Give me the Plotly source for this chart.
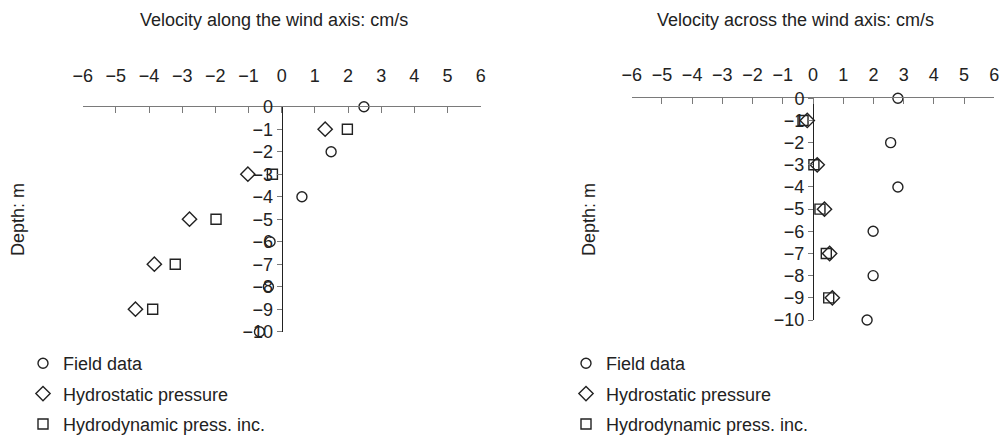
import plotly.graph_objects as go

# Depth levels (m) for each series
depth_field = [0, -2, -4, -6, -8, -10]
depth_model = [-1, -3, -5, -7, -9]

# Velocity along the wind axis (cm/s)
along_field = [2.48, 1.49, 0.61, -0.35, -0.40, -0.67]
along_hydrostatic = [1.31, -1.02, -2.78, -3.84, -4.41]
along_hydrodynamic = [1.98, -0.28, -1.98, -3.21, -3.89]

# Velocity across the wind axis (cm/s)
across_field = [2.81, 2.57, 2.81, 1.99, 1.99, 1.79]
across_hydrostatic = [-0.19, 0.14, 0.38, 0.55, 0.64]
across_hydrodynamic = [-0.33, 0.03, 0.23, 0.44, 0.52]

x_ticks = [-6, -5, -4, -3, -2, -1, 0, 1, 2, 3, 4, 5, 6]
y_ticks = [0, -1, -2, -3, -4, -5, -6, -7, -8, -9, -10]

series_names = ["Field data", "Hydrostatic pressure", "Hydrodynamic press. inc."]
symbols = ["circle-open", "diamond-open", "square-open"]
sizes = [10, 11, 10]

FONT = "Liberation Sans, Arial, Helvetica, sans-serif"
FS = 18
INK = "#222222"
GREY = "#7a7a7a"


def fmt(v):
    return str(v).replace("-", "\u2212")


fig = go.Figure()

panels = [
    ("x", "y", "legend", [along_field, along_hydrostatic, along_hydrodynamic]),
    ("x2", "y2", "legend2", [across_field, across_hydrostatic, across_hydrodynamic]),
]
for xa, ya, leg, vals in panels:
    for i, v in enumerate(vals):
        d = depth_field if i == 0 else depth_model
        fig.add_trace(go.Scatter(
            x=v, y=d, mode="markers", name=series_names[i],
            xaxis=xa, yaxis=ya, legend=leg, legendgroup=f"{leg}{i}",
            cliponaxis=False,
            marker=dict(symbol=symbols[i], size=sizes[i], color=INK,
                        line=dict(width=1.4, color=INK)),
        ))

W, H = 1007, 441


def px_x(p):
    return p / W


def px_y(p):
    return 1 - p / H


tick_font = dict(family=FONT, size=FS, color=INK)

common_x = dict(
    range=[-6, 6], side="top", showline=True, linecolor=GREY, linewidth=1,
    ticks="inside", ticklen=6, tickcolor=GREY, tickwidth=1,
    tickvals=x_ticks, ticktext=[fmt(t) for t in x_ticks],
    showgrid=False, zeroline=False, fixedrange=True, tickfont=tick_font,
)
common_y = dict(
    range=[-10, 0], anchor="free", showline=True, linecolor=INK, linewidth=1,
    ticks="outside", ticklen=5, tickcolor=GREY, tickwidth=1,
    tickvals=y_ticks, ticktext=[fmt(t) for t in y_ticks],
    showgrid=False, zeroline=False, fixedrange=True, tickfont=tick_font,
)


def label(text, x, y, angle=0):
    return dict(text=text, x=px_x(x), y=px_y(y), xref="paper", yref="paper",
                xanchor="center", yanchor="middle", textangle=angle,
                showarrow=False, font=dict(family=FONT, size=FS, color=INK))


legend_style = dict(xanchor="left", yanchor="top", tracegroupgap=4,
                    bgcolor="rgba(0,0,0,0)", font=dict(family=FONT, size=FS, color=INK))

fig.update_layout(
    width=W, height=H,
    margin=dict(l=0, r=0, t=0, b=0, autoexpand=False),
    paper_bgcolor="white", plot_bgcolor="white",
    font=dict(family=FONT, size=FS, color=INK),
    xaxis=dict(common_x, domain=[px_x(82.7), px_x(480.7)], anchor="y",
               ticklabelstandoff=17),
    yaxis=dict(common_y, domain=[px_y(331.7), px_y(106.7)],
               position=px_x(281.7)),
    xaxis2=dict(common_x, domain=[px_x(631.7), px_x(994.3)], anchor="y2",
                ticklabelstandoff=9),
    yaxis2=dict(common_y, domain=[px_y(320), px_y(98.3)],
                position=px_x(813)),
    legend=dict(legend_style, x=px_x(23), y=px_y(345)),
    legend2=dict(legend_style, x=px_x(566), y=px_y(345)),
    showlegend=True,
    annotations=[
        label("Velocity along the wind axis: cm/s", 274, 20),
        label("Velocity across the wind axis: cm/s", 795, 20),
        label("Depth: m", 18, 220, -90),
        label("Depth: m", 589, 220, -90),
    ],
)

fig.write_html("out.html")
